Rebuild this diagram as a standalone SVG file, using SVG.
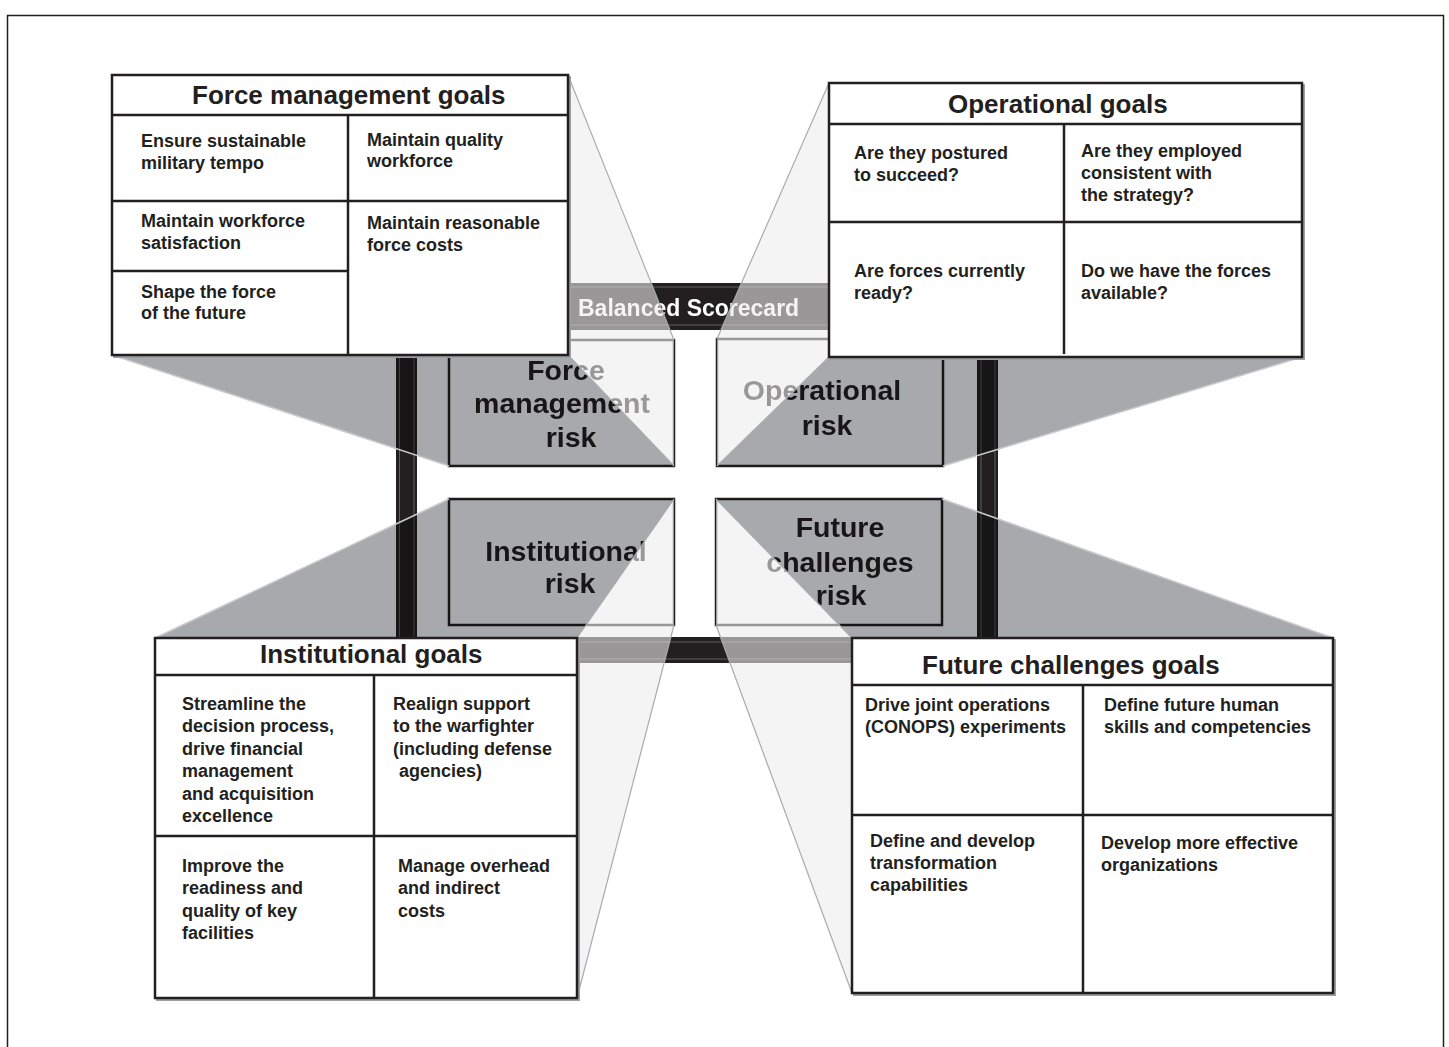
<svg xmlns="http://www.w3.org/2000/svg" width="1449" height="1047" viewBox="0 0 1449 1047">
<style>
  text { font-family: "Liberation Sans", Arial, Helvetica, sans-serif; font-weight: bold; fill: #231f20; }
  .hdr { font-size: 26px; }
  .body { font-size: 18px; }
  .risk { font-size: 28.5px; text-anchor: middle; }
  .bar { fill: #231f20; }
  .barline { fill: none; stroke: #6d6e71; stroke-width: 0.8; }
  .rbox { fill: #ffffff; stroke: #231f20; stroke-width: 2.5; }
  .dark { fill: #a7a9ac; mix-blend-mode: multiply; }
  .light { fill: #ececec; fill-opacity: 0.59; }
  .darkedge { fill: none; stroke: #c9cacc; stroke-width: 1.5; }
  .lightedge { fill: none; stroke: #a9abae; stroke-width: 1.2; }
  .gbox { fill: #ffffff; stroke: #231f20; stroke-width: 2.5; }
  .shadow { fill: none; stroke: #9d9fa2; stroke-width: 2; }
  .div { stroke: #231f20; stroke-width: 2.5; fill: none; }
</style>

<!-- outer frame -->
<rect x="7.5" y="15.5" width="1436" height="1045" fill="none" stroke="#231f20" stroke-width="1.5"/>

<!-- scorecard frame -->
<g id="scorecard">
  <rect class="bar" x="396" y="283" width="602" height="47"/>
  <rect class="bar" x="396" y="637" width="602" height="26"/>
  <rect class="bar" x="396" y="283" width="21" height="380"/>
  <rect class="bar" x="977" y="283" width="21" height="380"/>
  <line class="barline" x1="396" y1="287" x2="998" y2="287"/>
  <line class="barline" x1="417" y1="325" x2="977" y2="325"/>
  <line class="barline" x1="417" y1="642" x2="977" y2="642"/>
  <line class="barline" x1="396" y1="659" x2="998" y2="659"/>
  <line class="barline" x1="399.5" y1="283" x2="399.5" y2="663"/>
  <line class="barline" x1="414" y1="330" x2="414" y2="637"/>
  <line class="barline" x1="981" y1="330" x2="981" y2="637"/>
  <line class="barline" x1="995" y1="283" x2="995" y2="663"/>
  <text x="578" y="316" style="font-size:23px; fill:#ffffff;">Balanced Scorecard</text>
</g>

<!-- risk nodes -->
<g id="force-management-risk">
  <rect class="rbox" x="449" y="340" width="225" height="126"/>
  <text class="risk" x="566" y="380">Force</text>
  <text class="risk" x="562" y="413">management</text>
  <text class="risk" x="571" y="447">risk</text>
</g>
<g id="operational-risk">
  <rect class="rbox" x="717" y="339" width="226" height="127"/>
  <text class="risk" x="822" y="400">Operational</text>
  <text class="risk" x="827" y="435">risk</text>
</g>
<g id="institutional-risk">
  <rect class="rbox" x="449" y="499" width="225" height="126"/>
  <text class="risk" x="566" y="561">Institutional</text>
  <text class="risk" x="570" y="593">risk</text>
</g>
<g id="future-challenges-risk">
  <rect class="rbox" x="716" y="499" width="226" height="126"/>
  <text class="risk" x="840" y="537">Future</text>
  <text class="risk" x="840" y="572">challenges</text>
  <text class="risk" x="841" y="605">risk</text>
</g>

<!-- projections (connectors) -->
<g id="connectors">
  <polygon class="dark" points="112,355 568,355 674,466 449,466"/>
  <polygon class="dark" points="829,357 1302,357 943,466 717,466"/>
  <polygon class="dark" points="155,638 449,499 674,499 577,638"/>
  <polygon class="dark" points="716,499 942,499 1333,638 852,638"/>
  <polygon class="light" points="568,75 674,340 674,466 568,355"/>
  <polygon class="light" points="829,83 717,339 717,466 829,357"/>
  <polygon class="light" points="577,638 674,499 674,625 577,998"/>
  <polygon class="light" points="716,499 852,638 852,993 716,625"/>
  <polyline class="darkedge" points="112,355 449,466"/>
  <polyline class="darkedge" points="1302,357 943,466"/>
  <polyline class="darkedge" points="155,638 449,499"/>
  <polyline class="darkedge" points="942,499 1333,638"/>
  <polyline class="lightedge" points="568,75 674,340"/>
  <polyline class="lightedge" points="568,355 674,466"/>
  <polyline class="lightedge" points="829,83 717,339"/>
  <polyline class="lightedge" points="829,357 717,466"/>
  <polyline class="lightedge" points="577,638 674,499"/>
  <polyline class="lightedge" points="674,625 577,998"/>
  <polyline class="lightedge" points="716,499 852,638"/>
  <polyline class="lightedge" points="716,625 852,993"/>
</g>

<!-- goal boxes -->
<g id="force-management-goals">
  <rect class="shadow" x="114" y="77" width="456" height="280"/>
  <rect class="gbox" x="112" y="75" width="456" height="280"/>
  <line class="div" x1="112" y1="115" x2="568" y2="115"/>
  <line class="div" x1="348" y1="115" x2="348" y2="355"/>
  <line class="div" x1="112" y1="201" x2="568" y2="201"/>
  <line class="div" x1="112" y1="271" x2="348" y2="271"/>
  <text class="hdr" x="192" y="104">Force management goals</text>
  <text class="body" x="141" y="147">Ensure sustainable</text>
  <text class="body" x="141" y="169">military tempo</text>
  <text class="body" x="367" y="146">Maintain quality</text>
  <text class="body" x="367" y="167">workforce</text>
  <text class="body" x="141" y="227">Maintain workforce</text>
  <text class="body" x="141" y="249">satisfaction</text>
  <text class="body" x="367" y="229">Maintain reasonable</text>
  <text class="body" x="367" y="251">force costs</text>
  <text class="body" x="141" y="298">Shape the force</text>
  <text class="body" x="141" y="319">of the future</text>
</g>

<g id="operational-goals">
  <rect class="shadow" x="831" y="85" width="473" height="274"/>
  <rect class="gbox" x="829" y="83" width="473" height="274"/>
  <line class="div" x1="829" y1="124" x2="1302" y2="124"/>
  <line class="div" x1="1064" y1="124" x2="1064" y2="354"/>
  <line class="div" x1="829" y1="222" x2="1302" y2="222"/>
  <text class="hdr" x="948" y="113">Operational goals</text>
  <text class="body" x="854" y="159">Are they postured</text>
  <text class="body" x="854" y="181">to succeed?</text>
  <text class="body" x="1081" y="157">Are they employed</text>
  <text class="body" x="1081" y="179">consistent with</text>
  <text class="body" x="1081" y="201">the strategy?</text>
  <text class="body" x="854" y="277">Are forces currently</text>
  <text class="body" x="854" y="299">ready?</text>
  <text class="body" x="1081" y="277">Do we have the forces</text>
  <text class="body" x="1081" y="299">available?</text>
</g>

<g id="institutional-goals">
  <rect class="shadow" x="157" y="640" width="422" height="360"/>
  <rect class="gbox" x="155" y="638" width="422" height="360"/>
  <line class="div" x1="155" y1="675" x2="577" y2="675"/>
  <line class="div" x1="374" y1="675" x2="374" y2="998"/>
  <line class="div" x1="155" y1="836" x2="577" y2="836"/>
  <text class="hdr" x="260" y="663">Institutional goals</text>
  <text class="body" x="182" y="710">Streamline the</text>
  <text class="body" x="182" y="732">decision process,</text>
  <text class="body" x="182" y="755">drive financial</text>
  <text class="body" x="182" y="777">management</text>
  <text class="body" x="182" y="800">and acquisition</text>
  <text class="body" x="182" y="822">excellence</text>
  <text class="body" x="393" y="710">Realign support</text>
  <text class="body" x="393" y="732">to the warfighter</text>
  <text class="body" x="393" y="755">(including defense</text>
  <text class="body" x="399" y="777">agencies)</text>
  <text class="body" x="182" y="872">Improve the</text>
  <text class="body" x="182" y="894">readiness and</text>
  <text class="body" x="182" y="917">quality of key</text>
  <text class="body" x="182" y="939">facilities</text>
  <text class="body" x="398" y="872">Manage overhead</text>
  <text class="body" x="398" y="894">and indirect</text>
  <text class="body" x="398" y="917">costs</text>
</g>

<g id="future-challenges-goals">
  <rect class="shadow" x="854" y="640" width="481" height="355"/>
  <rect class="gbox" x="852" y="638" width="481" height="355"/>
  <line class="div" x1="852" y1="685" x2="1333" y2="685"/>
  <line class="div" x1="1083" y1="685" x2="1083" y2="993"/>
  <line class="div" x1="852" y1="815" x2="1333" y2="815"/>
  <text class="hdr" x="922" y="674">Future challenges goals</text>
  <text class="body" x="865" y="711">Drive joint operations</text>
  <text class="body" x="865" y="733">(CONOPS) experiments</text>
  <text class="body" x="1104" y="711">Define future human</text>
  <text class="body" x="1104" y="733">skills and competencies</text>
  <text class="body" x="870" y="847">Define and develop</text>
  <text class="body" x="870" y="869">transformation</text>
  <text class="body" x="870" y="891">capabilities</text>
  <text class="body" x="1101" y="849">Develop more effective</text>
  <text class="body" x="1101" y="871">organizations</text>
</g>
</svg>
